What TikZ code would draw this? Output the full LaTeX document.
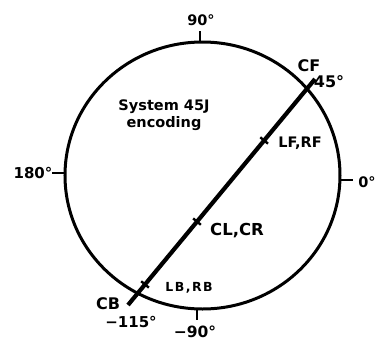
\documentclass[tikz,border=0pt]{standalone}
\usepackage{fontspec}
\setmainfont{DejaVu Sans}
\usetikzlibrary{calc}
\tikzset{
  lbl/.style={inner sep=0pt, font=\bfseries\fontsize{#1}{#1}\selectfont},
  lbl/.default=14,
  rim/.style={line width=3pt},
  axis tick/.style={line width=2.4pt},
  mainline/.style={line width=4.2pt},
  linetick/.style={line width=2.4pt}
}
\begin{document}
\begin{tikzpicture}[x=1pt,y=-1pt]
\useasboundingbox (0,0) rectangle (384,341);
% circle
\coordinate (o) at (202.5,175.5);
\draw[rim] (o) ellipse [x radius=137.5, y radius=133.5];
% rim ticks
\coordinate (top) at (200,42);   \coordinate (topo) at (200,31);
\coordinate (lft) at (65,173);   \coordinate (lfto) at (52,173);
\coordinate (rgt) at (340,180);  \coordinate (rgto) at (353,180);
\coordinate (bot) at (197,309);  \coordinate (boto) at (197,320);
\draw[axis tick] (top) -- (topo);
\draw[axis tick] (lft) -- (lfto);
\draw[axis tick] (rgt) -- (rgto);
\draw[axis tick] (bot) -- (boto);
% degree labels
\node[lbl=14.5] (d90) at (201,20) {90°};
\node[lbl=15] (d180) at (33,173) {180°};
\node[lbl=14.5] (d0) at (367,182) {0°};
\node[lbl=15.5] (dm90) at (195,332) {−90°};
\node[lbl=15] (dm115) at (131,322) {−115°};
\node[lbl=16] (d45) at (329,82) {45°};
% main line
\coordinate (cb) at (128,305);
\coordinate (cf) at (315,79);
\draw[mainline] (cb) -- (cf);
% ticks on line
\foreach \p/\n in {0.091/tlb, 0.369/tcl, 0.728/tlf}{
  \coordinate (\n) at ($(cb)!\p!(cf)$);
  \draw[linetick] ($(\n)!5pt!90:(cf)$) -- ($(\n)!5pt!-90:(cf)$);
}
% labels
\node[lbl=16] (CF) at (309,66) {CF};
\node[lbl=16] (CB) at (108,304) {CB};
\node[lbl=14.5] (LF) at (300,143) {LF,RF};
\node[lbl=16.5] (CL) at (237,231) {CL,CR};
\node[lbl=13, font=\bfseries\fontsize{12.5}{12.5}\selectfont\addfontfeature{LetterSpace=12}] (LB) at (189,288) {LB,RB};
\node[lbl=14.5, align=center, font=\bfseries\fontsize{14.5}{16.5}\selectfont] (title) at (164,115) {System 45J\\encoding};
\end{tikzpicture}
\end{document}
